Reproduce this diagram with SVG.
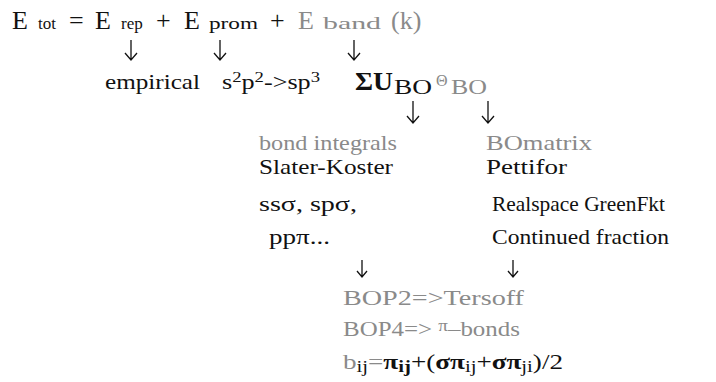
<svg xmlns="http://www.w3.org/2000/svg" width="716" height="382" viewBox="0 0 716 382" font-family="'Liberation Serif', 'DejaVu Serif', serif">
<style>
text{font-family:'Liberation Serif','DejaVu Serif',serif;fill:#111}
.g{fill:#8a8a8a}
.big{font-size:26px}
.sub{font-size:17px}
.t{font-size:21px}
.b{font-weight:bold}
.arr{stroke:#111;stroke-width:1.3;fill:none}
</style>
<rect width="716" height="382" fill="#fff"/>
<g id="equation">
<text x="12" y="29" class="big">E</text>
<text x="38" y="29" class="sub">tot</text>
<text x="69" y="29" class="big">=</text>
<text x="95" y="29" class="big">E</text>
<text x="121" y="29" class="sub">rep</text>
<text x="156" y="29" class="big">+</text>
<text x="184" y="29" class="big">E</text>
<text x="209" y="29" class="sub" textLength="49" lengthAdjust="spacingAndGlyphs">prom</text>
<text x="270" y="29" class="big">+</text>
<text x="298" y="29" class="big g">E</text>
<text x="323" y="29" class="sub g" textLength="58" lengthAdjust="spacingAndGlyphs">band</text>
<text x="391" y="29" class="big g">(k)</text>
</g>
<g id="empirical"><text x="105" y="89" class="t" textLength="95" lengthAdjust="spacingAndGlyphs">empirical</text></g>
<g id="promotion"><text x="222" y="89" class="t" textLength="98" lengthAdjust="spacingAndGlyphs">s<tspan dy="-7" font-size="15">2</tspan><tspan dy="7">p</tspan><tspan dy="-7" font-size="15">2</tspan><tspan dy="7">-&gt;sp</tspan><tspan dy="-7" font-size="15">3</tspan></text></g>
<g id="band">
<text x="355" y="90" font-size="25" class="b" textLength="38" lengthAdjust="spacingAndGlyphs">ΣU</text>
<text x="394" y="94" font-size="20" textLength="38" lengthAdjust="spacingAndGlyphs">BO</text>
<text x="436" y="86" font-size="16" class="g">Θ</text>
<text x="451" y="94" font-size="20" class="g" textLength="36" lengthAdjust="spacingAndGlyphs">BO</text>
</g>
<g id="bondintegrals">
<text x="259" y="150" class="t g" textLength="138" lengthAdjust="spacingAndGlyphs">bond integrals</text>
<text x="259" y="174" class="t" textLength="134" lengthAdjust="spacingAndGlyphs">Slater-Koster</text>
<text x="259" y="211" class="t" textLength="98" lengthAdjust="spacingAndGlyphs">ssσ, spσ,</text>
<text x="269" y="244" class="t" textLength="61" lengthAdjust="spacingAndGlyphs">ppπ...</text>
</g>
<g id="bomatrix">
<text x="486" y="150" class="t g" textLength="106" lengthAdjust="spacingAndGlyphs">BOmatrix</text>
<text x="486" y="174" class="t" textLength="81" lengthAdjust="spacingAndGlyphs">Pettifor</text>
<text x="492" y="211" class="t" textLength="173" lengthAdjust="spacingAndGlyphs">Realspace GreenFkt</text>
<text x="492" y="244" class="t" textLength="177" lengthAdjust="spacingAndGlyphs">Continued fraction</text>
</g>
<g id="bop">
<text x="343" y="305" class="t g" textLength="181" lengthAdjust="spacingAndGlyphs">BOP2=&gt;Tersoff</text>
<text x="343" y="336" class="t g" textLength="177" lengthAdjust="spacingAndGlyphs">BOP4=&gt; <tspan font-size="16" dy="-5">π</tspan><tspan dy="5">–bonds</tspan></text>
<text x="343" y="369" class="t" textLength="220" lengthAdjust="spacingAndGlyphs"><tspan class="g">b</tspan><tspan font-size="16" dy="3">ij</tspan><tspan dy="-3" class="g">=</tspan><tspan class="b">π</tspan><tspan font-size="16" dy="3" class="b">ij</tspan><tspan dy="-3">+(</tspan><tspan class="b">σπ</tspan><tspan font-size="16" dy="3">ij</tspan><tspan dy="-3">+</tspan><tspan class="b">σπ</tspan><tspan font-size="16" dy="3">ji</tspan><tspan dy="-3">)/2</tspan></text>
</g>
<g id="connectors" class="arr">
<path d="M131 40V60M125 53L131 60L137 53"/>
<path d="M220 40V60M214 53L220 60L226 53"/>
<path d="M354 40V60M348 53L354 60L360 53"/>
<path d="M413 101V123M407 116L413 123L419 116"/>
<path d="M488 101V123M482 116L488 123L494 116"/>
<path d="M362 260V277M357 271L362 277L367 271"/>
<path d="M513 260V277M508 271L513 277L518 271"/>
</g>
</svg>
